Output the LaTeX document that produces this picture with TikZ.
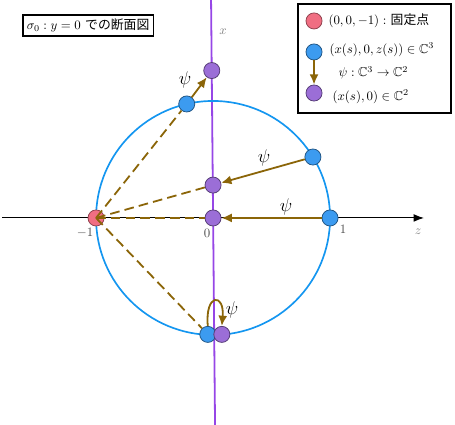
\documentclass[tikz,border=0pt]{standalone}
\usepackage{amsmath,amssymb}
\usepackage{fontspec}
\newfontfamily\jp{Noto Sans CJK JP}
\usepackage{tikz}
\usetikzlibrary{arrows.meta,calc,positioning}
\usepackage{xcolor}
\definecolor{psimap}{RGB}{139,101,8}
\definecolor{xline}{RGB}{150,70,230}
\definecolor{circ}{RGB}{20,150,240}
\definecolor{fixpt}{RGB}{240,110,130}
\definecolor{curvept}{RGB}{60,155,240}
\definecolor{imgpt}{RGB}{155,110,215}

\begin{document}
\begin{tikzpicture}[x=3.2cm,y=3.2cm,
  pt/.style={circle,draw,inner sep=0pt,minimum size=12.5pt,line width=0.6pt},
  rpt/.style={pt,fill=fixpt,draw=fixpt!60!black},
  bpt/.style={pt,fill=curvept,draw=curvept!55!black},
  ppt/.style={pt,fill=imgpt,draw=imgpt!55!black},
  proj/.style={psimap,line width=1.4pt,dash pattern=on 7.5pt off 4pt},
  psiarr/.style={psimap,line width=1.4pt,-{Latex[length=8pt,width=7pt]}},
  lbl/.style={inner sep=1pt},
  psilbl/.style={inner sep=1pt,font=\Large}]
\useasboundingbox (-1.821,-1.769) rectangle (2.068,1.863);
% axes and unit circle
\draw[line width=0.8pt,-{Latex[length=8pt,width=6pt]}] (-1.80,0) -- (1.803,0);
\draw[xline,line width=1.4pt] (-0.017,1.863) -- (0.017,-1.769);
\draw[circ,line width=1.3pt] (0,0) circle (1);
\node[lbl,gray] (zlab) at (1.752,-0.12) {$z$};
\node[lbl,gray] (xlab) at (0.085,1.59) {$x$};
\node[lbl,black!70] (m1) at (-1.094,-0.128) {$-1$};
\node[lbl,black!70] (o) at (-0.051,-0.128) {$0$};
\node[lbl,black!70] (p1) at (1.111,-0.094) {$1$};
% points on the circle and their images on the x-axis
\node[rpt] (R) at (-1,0) {};
\foreach \A/\n in {103/1,31.4/2,0/3}{\node[bpt] (B\n) at (\A:1) {};}
\node[bpt] (B4) at (-0.045,-0.995) {};
\node[ppt] (P1) at (-0.011,1.26) {};
\node[ppt] (P2) at (0,0.281) {};
\node[ppt] (P3) at (0,0) {};
\node[ppt] (P4) at (0.075,-0.995) {};
% lines through the fixed point
\draw[proj] (R.center) -- (B1);
\draw[proj] (R.center) -- (P2);
\draw[proj] (R.center) -- (P3);
\draw[proj] (R.center) -- (B4);
% psi
\draw[psiarr] (B1) -- (P1);
\draw[psiarr] (B2) -- (P2);
\draw[psiarr] (B3) -- (P3);
\draw[psiarr] (B4.north) .. controls (-0.07,-0.64) and (0.10,-0.64) .. (P4.north);
\node[psilbl] (psi1) at (-0.24,1.18) {$\psi$};
\node[psilbl] (psi2) at (0.436,0.513) {$\psi$};
\node[psilbl] (psi3) at (0.624,0.094) {$\psi$};
\node[psilbl] (psi4) at (0.162,-0.786) {$\psi$};
% title
\node[draw,line width=1pt,inner sep=3pt] (title) at (-1.068,1.645) {$\sigma_0 : y=0$ {\jp での断面図}};
% legend
\draw[line width=1.2pt] (0.726,1.829) rectangle (2.034,0.897);
\node[rpt] (LR) at (0.863,1.684) {};
\node[bpt] (LB) at (0.863,1.419) {};
\node[ppt] (LP) at (0.863,1.068) {};
\draw[psiarr] (LB) -- (LP);
\node[lbl,anchor=west] (tR) at (0.974,1.684) {$(0,0,-1):$ {\jp 固定点}};
\node[lbl,anchor=west] (tB) at (0.983,1.436) {$(x(s),0,z(s))\in\mathbb{C}^3$};
\node[lbl,anchor=west] (tM) at (1.06,1.239) {$\psi:\mathbb{C}^3\to\mathbb{C}^2$};
\node[lbl,anchor=west] (tP) at (1.009,1.034) {$(x(s),0)\in\mathbb{C}^2$};
\end{tikzpicture}
\end{document}
